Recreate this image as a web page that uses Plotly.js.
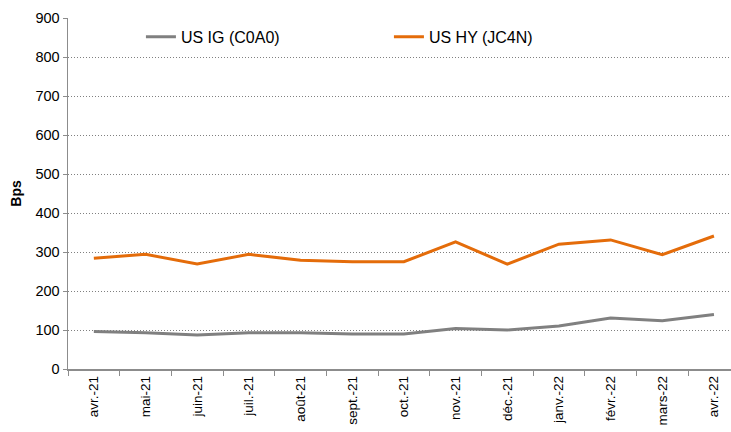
<!DOCTYPE html>
<html>
<head>
<meta charset="utf-8">
<script src="https://cdn.plot.ly/plotly-3.0.1.min.js"></script>
<style>html,body{margin:0;padding:0;background:#fff;}#chart{width:731px;height:432px;}</style>
</head>
<body>
<div id="chart"></div>
<script>
const months = ["avr.-21","mai-21","juin-21","juil.-21","août-21","sept.-21","oct.-21","nov.-21","déc.-21","janv.-22","févr.-22","mars-22","avr.-22"];
const usIG = [96, 93, 87, 93, 93, 90, 90, 104, 100, 110, 131, 124, 140];
const usHY = [284, 294, 269, 294, 279, 275, 275, 326, 269, 320, 331, 293, 341];
const yTicks = [0,100,200,300,400,500,600,700,800,900];

const traces = [
  {x: months, y: usIG, type: "scatter", mode: "lines", name: "US IG (C0A0)",
   line: {color: "#808080", width: 3}},
  {x: months, y: usHY, type: "scatter", mode: "lines", name: "US HY (JC4N)",
   line: {color: "#E46C0A", width: 3}}
];

const layout = {
  width: 731, height: 432,
  margin: {l: 68, r: 0, t: 18, b: 63},
  paper_bgcolor: "#fff", plot_bgcolor: "#fff",
  font: {family: "Liberation Sans, Arial, sans-serif", size: 14, color: "#000"},
  showlegend: true,
  legend: {orientation: "h", x: 0.11, y: 0.995, xanchor: "left", yanchor: "top",
           font: {size: 16}, bgcolor: "rgba(0,0,0,0)", entrywidth: 203, entrywidthmode: "pixels",
           itemwidth: 30},
  xaxis: {type: "category", range: [-0.5, 12.33], tickangle: -90,
          showline: true, linecolor: "#8c8c8c", linewidth: 1.5,
          ticks: "outside", ticklen: 5, tickcolor: "#8c8c8c", tickson: "boundaries",
          showgrid: false, tickfont: {size: 13.5}, zeroline: false},
  yaxis: {range: [0, 900], tickvals: yTicks, ticktext: yTicks.map(String),
          showline: true, linecolor: "#8c8c8c", linewidth: 1.5,
          ticks: "outside", ticklen: 4, tickcolor: "#8c8c8c",
          showgrid: true, gridcolor: "#808080", griddash: "1px,2px", gridwidth: 1,
          zeroline: false, tickfont: {size: 14.5},
          title: {text: "<b>Bps</b>", font: {size: 14}, standoff: 10}}
};

Plotly.newPlot("chart", traces, layout, {displayModeBar: false, staticPlot: true});
</script>
</body>
</html>
